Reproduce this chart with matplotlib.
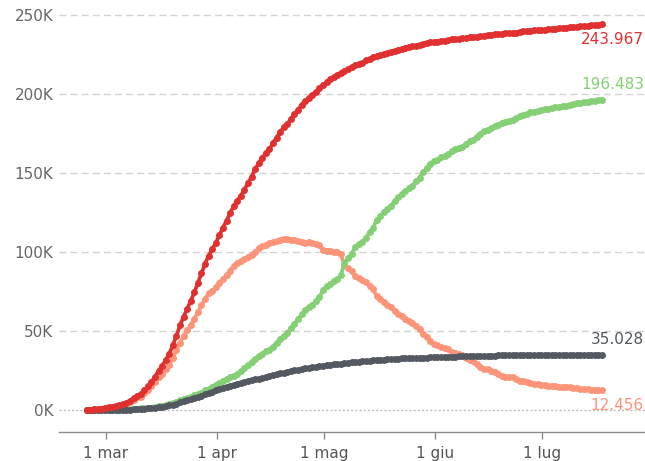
import pandas as pd
import matplotlib
matplotlib.use("Agg")
import matplotlib.pyplot as plt
import matplotlib.dates as mdates

# daily values, 24 feb -> 17 lug 2020 (bulletin at 18:00)
start = "2020-02-24 18:00"

totale_casi = [
    229, 322, 400, 650, 888, 1128,
    1694, 2036, 2502, 3089, 3858, 4636, 5883, 7375, 9172, 10149, 12462, 15113, 17660, 21157, 24747, 27980,
    31506, 35713, 41035, 47021, 53578, 59138, 63927, 69176, 74386, 80539, 86498, 92472, 97689, 101739, 105792,
    110574, 115242, 119827, 124632, 128948, 132547, 135586, 139422, 143626, 147577, 152271, 156363, 159516,
    162488, 165155, 168941, 172434, 175925, 178972, 181228, 183957, 187327, 189973, 192994, 195351, 197675,
    199414, 201505, 203591, 205463,
    207428, 209328, 210717, 211938, 213013, 214457, 215858, 217185, 218268, 219070, 219814, 221216, 222104,
    223096, 223885, 224760, 225435, 225886, 226699, 227364, 228006, 228658, 229327, 229858, 230158, 230555,
    231139, 231732, 232248, 232664, 233019,
    233197, 233515, 233836, 234013, 234531, 234801, 234998, 235278, 235561, 235763, 236142, 236305, 236651,
    236989, 237290, 237500, 237828, 238011, 238159, 238275, 238499, 238720, 238833, 239410, 239706, 239961,
    240136, 240310, 240436, 240578,
    240760, 240961, 241184, 241419, 241611, 241819, 241956, 242149, 242363, 242639, 242827, 243061, 243230,
    243344, 243506, 243736, 243967,
]

guariti = [
    1, 1, 3, 45, 46, 50,
    83, 149, 160, 276, 414, 523, 589, 622, 724, 1004, 1045, 1258, 1439, 1966, 2335, 2749, 2941, 4025, 4440,
    5129, 6072, 7024, 7432, 8326, 9362, 10361, 10950, 12384, 13030, 14620, 15729,
    16847, 18278, 19758, 20996, 21815, 22837, 24392, 26491, 28470, 30455, 32534, 34211, 35435, 37130, 38092,
    40164, 42727, 44927, 47055, 48877, 51600, 54543, 57576, 60498, 63120, 64928, 66624, 68941, 71252, 75945,
    78249, 79914, 81654, 82879, 85231, 93245, 96276, 99023, 103031, 105186, 106587, 109039, 112541, 115288,
    120205, 122810, 125176, 127326, 129401, 132282, 134560, 136720, 138840, 140479, 141981, 144658, 147101,
    150604, 152844, 155633, 157507,
    158355, 160092, 160938, 161895, 163781, 165078, 165837, 166584, 168646, 169939, 170938, 173085, 174865,
    176370, 177010, 178526, 179455, 180544, 181907, 182453, 182893, 183426, 184585, 186111, 186725, 187615,
    188584, 188891, 189196, 189749,
    190248, 190717, 191083, 191467, 191944, 192108, 192241, 192815, 193640, 193978, 194579, 194928, 195106,
    195441, 195603, 196016, 196483,
]

positivi = [
    221, 311, 385, 588, 821, 1049,
    1577, 1835, 2263, 2706, 3296, 3916, 5061, 6387, 7985, 8514, 10590, 12839, 14955, 17750, 20603, 23073,
    26062, 28710, 33190, 37860, 42681, 46638, 50418, 54030, 57521, 62013, 66414, 70065, 73880, 75528, 77635,
    80572, 83049, 85388, 88274, 91246, 93187, 94067, 95262, 96877, 98273, 100269, 102253, 103616, 104291,
    105418, 106607, 106962, 107771, 108257, 108237, 107709, 107699, 106848, 106527, 105847, 106103, 105813,
    105205, 104657, 101551,
    100943, 100704, 100179, 99980, 98467, 91528, 89624, 87961, 84842, 83324, 82488, 81266, 78457, 76440,
    72070, 70187, 68351, 66553, 65129, 62752, 60960, 59322, 57752, 56594, 55300, 52942, 50966, 47986, 46175,
    43691, 42097,
    41367, 39893, 39297, 38429, 36976, 35877, 35262, 34730, 32872, 31710, 31037, 28997, 27485, 26274, 25909,
    24569, 23925, 22953, 21691, 21212, 20972, 20637, 19573, 18655, 18303, 17638, 16836, 16681, 16496, 16062,
    15724, 15426, 15268, 15098, 14806, 14842, 14816, 14420, 13797, 13723, 13303, 13179, 13157, 12919, 12906,
    12703, 12456,
]

deceduti = [
    7, 10, 12, 17, 21, 29,
    34, 52, 79, 107, 148, 197, 233, 366, 463, 631, 827, 1016, 1266, 1441, 1809, 2158, 2503, 2978, 3405, 4032,
    4825, 5476, 6077, 6820, 7503, 8165, 9134, 10023, 10779, 11591, 12428,
    13155, 13915, 14681, 15362, 15887, 16523, 17127, 17669, 18279, 18849, 19468, 19899, 20465, 21067, 21645,
    22170, 22745, 23227, 23660, 24114, 24648, 25085, 25549, 25969, 26384, 26644, 26977, 27359, 27682, 27967,
    28236, 28710, 28884, 29079, 29315, 29684, 29958, 30201, 30395, 30560, 30739, 30911, 31106, 31368, 31610,
    31763, 31908, 32007, 32169, 32330, 32486, 32616, 32735, 32785, 32877, 32955, 33072, 33142, 33229, 33340,
    33415,
    33475, 33530, 33601, 33689, 33774, 33846, 33899, 33964, 34043, 34114, 34167, 34223, 34301, 34345, 34371,
    34405, 34448, 34514, 34561, 34610, 34634, 34657, 34675, 34644, 34678, 34708, 34716, 34738, 34744, 34767,
    34788, 34818, 34833, 34854, 34861, 34869, 34899, 34914, 34926, 34938, 34945, 34954, 34967, 34984, 34997,
    35017, 35028,
]

month_ticks = ["2020-03-01", "2020-04-01", "2020-05-01", "2020-06-01", "2020-07-01"]
month_labels = ["1 mar", "1 apr", "1 mag", "1 giu", "1 lug"]
y_ticks = [0, 50000, 100000, 150000, 200000, 250000]
y_labels = ["0K", "50K", "100K", "150K", "200K", "250K"]

RED = "#e0302f"
GREEN = "#85cf76"
SALMON = "#fc9479"
GRAY = "#545861"


def label(v):
    return f"{v:,}".replace(",", ".")


def main():
    dates = pd.date_range(start, periods=len(totale_casi), freq="D")

    fig = plt.figure(figsize=(6.45, 4.61), dpi=100)
    ax = fig.add_axes([59 / 645, 29 / 461, 1 - 59 / 645, 427 / 461])

    # bottom to top: active, recovered, deaths, total
    series = [
        (positivi, SALMON, -11),
        (guariti, GREEN, 11),
        (deceduti, GRAY, 11),
        (totale_casi, RED, -11),
    ]
    for z, (vals, col, dy) in enumerate(series):
        ax.plot(dates, vals, color=col, lw=2.7, marker="o", ms=5, mew=0,
                zorder=3 + z, solid_capstyle="round")
        ax.annotate(label(vals[-1]), xy=(0.998, vals[-1]),
                    xycoords=("axes fraction", "data"),
                    xytext=(0, dy), textcoords="offset points",
                    ha="right", va="center", color=col, fontsize=11)

    m1 = mdates.date2num(pd.Timestamp("2020-03-01"))
    ax.set_xlim(m1 - 13.1, m1 + 150.8)
    ax.set_ylim(-13900, 256300)

    ax.set_xticks([mdates.date2num(pd.Timestamp(d)) for d in month_ticks])
    ax.set_xticklabels(month_labels)
    ax.set_yticks(y_ticks)
    ax.set_yticklabels(y_labels)

    for y in y_ticks[1:]:
        ax.axhline(y, color="#d2d2d2", lw=1, ls=(0, (5, 3)), zorder=1)
    ax.axhline(0, color="#bdbdbd", lw=1, ls=(0, (1.5, 1.5)), zorder=1)

    for s in ["left", "right", "top"]:
        ax.spines[s].set_visible(False)
    ax.spines["bottom"].set_color("#8a8a8a")
    ax.spines["bottom"].set_linewidth(1)

    ax.tick_params(axis="x", colors="#8a8a8a", length=5, width=1, labelcolor="#555555",
                   labelsize=11, pad=5)
    ax.tick_params(axis="y", length=0, labelcolor="#666666", labelsize=11, pad=4)

    fig.savefig("out.png", dpi=100)


if __name__ == "__main__":
    main()
